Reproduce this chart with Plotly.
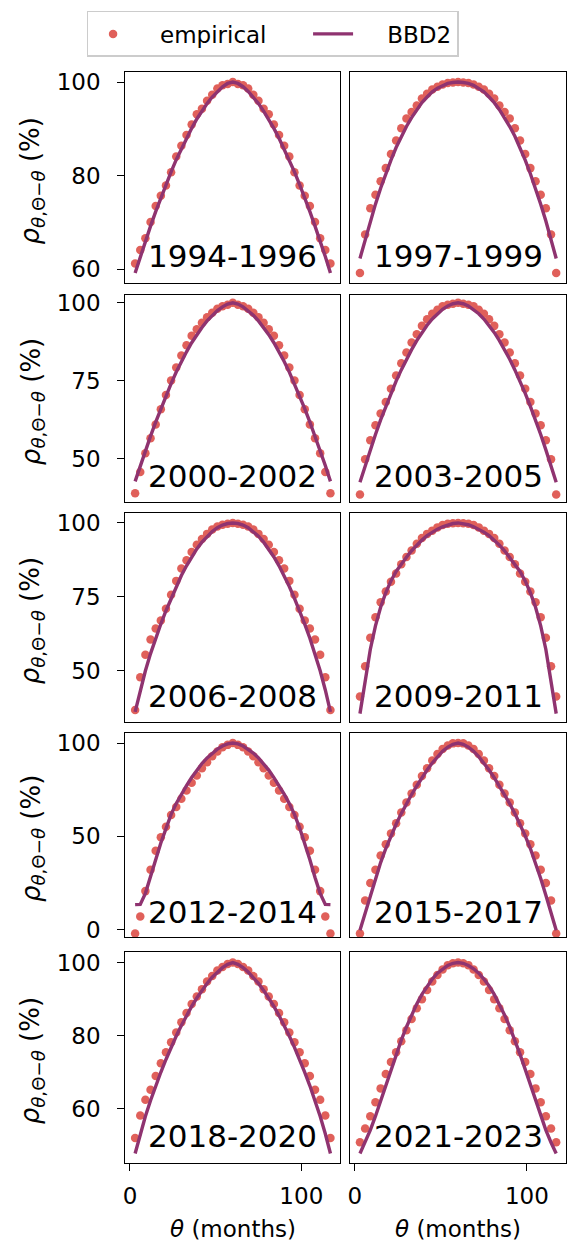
import plotly.graph_objects as go

theta = [3, 6, 9, 12, 15, 18, 21, 24, 27, 30, 33, 36, 39, 42, 45, 48, 51, 54, 57, 60,
         63, 66, 69, 72, 75, 78, 81, 84, 87, 90, 93, 96, 99, 102, 105, 108, 111, 114, 117]

periods = ["1994-1996", "1997-1999", "2000-2002", "2003-2005", "2006-2008",
           "2009-2011", "2012-2014", "2015-2017", "2018-2020", "2021-2023"]

emp_1994 = [61.2, 64.1, 66.6, 70.1, 73.5, 75.7, 77.9, 80.7, 84.1, 86.4, 88.7, 90.9, 93.1, 94.3, 96.0, 97.3, 98.6, 99.3, 99.6, 100.0,
            99.6, 99.3, 98.6, 97.3, 96.0, 94.3, 93.1, 90.9, 88.7, 86.4, 84.1, 80.7, 77.9, 75.7, 73.5, 70.1, 66.6, 64.1, 61.2]
bbd_1994 = [59.2, 62.7, 66.1, 69.2, 72.3, 75.3, 78.1, 80.8, 83.4, 85.7, 88.0, 90.1, 92.1, 93.8, 95.4, 96.8, 98.0, 99.0, 99.7, 100.0,
            99.7, 99.0, 98.0, 96.8, 95.4, 93.8, 92.1, 90.1, 88.0, 85.7, 83.4, 80.8, 78.1, 75.3, 72.3, 69.2, 66.1, 62.7, 59.2]

emp_1997 = [59.2, 67.4, 73.0, 75.9, 78.8, 81.6, 84.6, 87.5, 90.1, 92.2, 93.6, 95.0, 96.5, 97.5, 98.4, 99.0, 99.5, 99.8, 99.9, 100.0,
            99.9, 99.8, 99.5, 99.0, 98.4, 97.5, 96.5, 95.0, 93.6, 92.2, 90.1, 87.5, 84.6, 81.6, 78.8, 75.9, 73.0, 67.4, 59.2]
bbd_1997 = [62.3, 66.4, 70.3, 73.9, 77.3, 80.4, 83.3, 86.0, 88.4, 90.5, 92.4, 94.1, 95.6, 96.8, 97.9, 98.7, 99.3, 99.7, 99.9, 100.0,
            99.9, 99.7, 99.3, 98.7, 97.9, 96.8, 95.6, 94.1, 92.4, 90.5, 88.4, 86.0, 83.3, 80.4, 77.3, 73.9, 70.3, 66.4, 62.3]

emp_2000 = [39.0, 45.8, 51.8, 56.6, 61.0, 65.9, 70.5, 75.1, 79.3, 83.1, 86.4, 89.4, 91.5, 93.6, 95.4, 96.8, 98.1, 98.9, 99.4, 100.0,
            99.4, 98.9, 98.1, 96.8, 95.4, 93.6, 91.5, 89.4, 86.4, 83.1, 79.3, 75.1, 70.5, 65.9, 61.0, 56.6, 51.8, 45.8, 39.0]
bbd_2000 = [42.8, 47.9, 52.7, 57.3, 61.8, 66.1, 70.2, 74.1, 77.8, 81.2, 84.3, 87.2, 89.8, 92.1, 94.2, 96.0, 97.5, 98.7, 99.6, 100.0,
            99.6, 98.7, 97.5, 96.0, 94.2, 92.1, 89.8, 87.2, 84.3, 81.2, 77.8, 74.1, 70.2, 66.1, 61.8, 57.3, 52.7, 47.9, 42.8]

emp_2003 = [38.6, 49.9, 56.0, 60.8, 64.5, 68.2, 72.5, 76.7, 80.6, 84.1, 87.3, 89.9, 92.6, 94.7, 96.5, 97.8, 98.9, 99.4, 99.7, 100.0,
            99.7, 99.4, 98.9, 97.8, 96.5, 94.7, 92.6, 89.9, 87.3, 84.1, 80.6, 76.7, 72.5, 68.2, 64.5, 60.8, 56.0, 49.9, 38.6]
bbd_2003 = [42.5, 47.8, 52.9, 57.8, 62.5, 66.8, 71.0, 74.9, 78.5, 81.9, 85.0, 87.9, 90.5, 92.8, 94.8, 96.5, 97.9, 99.0, 99.7, 100.0,
            99.7, 99.0, 97.9, 96.5, 94.8, 92.8, 90.5, 87.9, 85.0, 81.9, 78.5, 74.9, 71.0, 66.8, 62.5, 57.8, 52.9, 47.8, 42.5]

emp_2006 = [36.7, 47.8, 55.4, 60.6, 64.3, 67.0, 71.0, 75.7, 80.4, 84.6, 87.4, 90.2, 92.6, 94.6, 96.3, 97.8, 98.8, 99.4, 99.7, 100.0,
            99.7, 99.4, 98.8, 97.8, 96.3, 94.6, 92.6, 90.2, 87.4, 84.6, 80.4, 75.7, 71.0, 67.0, 64.3, 60.6, 55.4, 47.8, 36.7]
bbd_2006 = [36.1, 43.5, 50.0, 55.8, 61.0, 65.8, 70.3, 74.5, 78.5, 82.2, 85.5, 88.5, 91.2, 93.5, 95.5, 97.1, 98.4, 99.3, 99.8, 100.0,
            99.8, 99.3, 98.4, 97.1, 95.5, 93.5, 91.2, 88.5, 85.5, 82.2, 78.5, 74.5, 70.3, 65.8, 61.0, 55.8, 50.0, 43.5, 36.1]

emp_2009 = [41.3, 51.5, 61.2, 68.1, 73.2, 76.8, 80.1, 82.9, 86.0, 88.5, 90.7, 93.0, 94.9, 96.3, 97.4, 98.5, 99.3, 99.7, 99.9, 100.0,
            99.9, 99.7, 99.3, 98.5, 97.4, 96.3, 94.9, 93.0, 90.7, 88.5, 86.0, 82.9, 80.1, 76.8, 73.2, 68.1, 61.2, 51.5, 41.3]
bbd_2009 = [35.5, 47.0, 57.2, 65.2, 71.5, 76.4, 80.4, 83.6, 86.2, 88.4, 90.6, 92.5, 94.2, 95.7, 96.9, 97.9, 98.7, 99.4, 99.8, 100.0,
            99.8, 99.4, 98.7, 97.9, 96.9, 95.7, 94.2, 92.5, 90.6, 88.4, 86.2, 83.6, 80.4, 76.4, 71.5, 65.2, 57.2, 47.0, 35.5]

emp_2012 = [-2.0, 7.1, 20.7, 32.2, 42.3, 49.5, 55.2, 61.4, 65.8, 70.2, 74.6, 78.7, 82.6, 86.5, 89.7, 92.9, 95.5, 97.7, 99.0, 100.0,
            99.0, 97.7, 95.5, 92.9, 89.7, 86.5, 82.6, 78.7, 74.6, 70.2, 65.8, 61.4, 55.2, 49.5, 42.3, 32.2, 20.7, 7.1, -2.0]
bbd_2012 = [13.5, 13.6, 19.5, 28.0, 37.5, 46.5, 54.6, 61.8, 67.6, 72.6, 77.2, 81.5, 85.5, 89.0, 92.0, 94.6, 96.7, 98.4, 99.5, 100.0,
            99.5, 98.4, 96.7, 94.6, 92.0, 89.0, 85.5, 81.5, 77.2, 72.6, 67.6, 61.8, 54.6, 46.5, 37.5, 28.0, 19.5, 13.6, 13.5]

emp_2015 = [-2.0, 15.7, 25.1, 32.2, 39.8, 45.8, 51.6, 57.0, 62.8, 68.1, 72.9, 77.7, 82.3, 86.5, 90.6, 94.1, 96.8, 98.6, 99.8, 100.0,
            99.8, 98.6, 96.8, 94.1, 90.6, 86.5, 82.3, 77.7, 72.9, 68.1, 62.8, 57.0, 51.6, 45.8, 39.8, 32.2, 25.1, 15.7, -2.0]
bbd_2015 = [-0.2, 9.0, 18.5, 27.5, 36.0, 43.5, 50.3, 56.5, 62.2, 67.5, 72.4, 77.0, 81.4, 85.5, 89.3, 92.7, 95.6, 97.8, 99.3, 100.0,
            99.3, 97.8, 95.6, 92.7, 89.3, 85.5, 81.4, 77.0, 72.4, 67.5, 62.2, 56.5, 50.3, 43.5, 36.0, 27.5, 18.5, 9.0, -0.2]

emp_2018 = [52.0, 58.2, 62.5, 65.2, 69.0, 72.5, 75.5, 78.2, 80.9, 83.7, 86.2, 88.7, 90.7, 92.7, 94.8, 96.3, 97.8, 98.8, 99.6, 100.0,
            99.6, 98.8, 97.8, 96.3, 94.8, 92.7, 90.7, 88.7, 86.2, 83.7, 80.9, 78.2, 75.5, 72.5, 69.0, 65.2, 62.5, 58.2, 52.0]
bbd_2018 = [47.8, 53.2, 58.0, 62.3, 66.3, 70.0, 73.5, 76.8, 79.9, 82.8, 85.5, 88.0, 90.3, 92.4, 94.3, 96.0, 97.4, 98.6, 99.5, 100.0,
            99.5, 98.6, 97.4, 96.0, 94.3, 92.4, 90.3, 88.0, 85.5, 82.8, 79.9, 76.8, 73.5, 70.0, 66.3, 62.3, 58.0, 53.2, 47.8]

emp_2021 = [50.9, 54.6, 58.0, 61.8, 65.6, 69.5, 72.8, 75.5, 78.5, 81.5, 84.6, 87.5, 90.0, 92.5, 94.8, 96.6, 98.1, 99.3, 99.8, 100.0,
            99.8, 99.3, 98.1, 96.6, 94.8, 92.5, 90.0, 87.5, 84.6, 81.5, 78.5, 75.5, 72.8, 69.5, 65.6, 61.8, 58.0, 54.6, 50.9]
bbd_2021 = [47.8, 50.8, 54.2, 58.0, 62.2, 66.5, 70.8, 74.9, 78.8, 82.4, 85.7, 88.7, 91.3, 93.6, 95.5, 97.1, 98.3, 99.2, 99.8, 100.0,
            99.8, 99.2, 98.3, 97.1, 95.5, 93.6, 91.3, 88.7, 85.7, 82.4, 78.8, 74.9, 70.8, 66.5, 62.2, 58.0, 54.2, 50.8, 47.8]

row_yticks = [[60, 80, 100], [50, 75, 100], [50, 75, 100], [0, 50, 100], [60, 80, 100]]
row_yranges = [[57.1, 102.05], [36.2, 102.6], [32.6, 103.4], [-4.1, 105.3], [45.3, 102.8]]
x_ticks = [0, 100]
x_range = [-2.7, 122.7]

emp_series = [emp_1994, emp_1997, emp_2000, emp_2003, emp_2006,
              emp_2009, emp_2012, emp_2015, emp_2018, emp_2021]
bbd_series = [bbd_1994, bbd_1997, bbd_2000, bbd_2003, bbd_2006,
              bbd_2009, bbd_2012, bbd_2015, bbd_2018, bbd_2021]

W, H = 568, 1245
DOT = "#e0605a"
LINE = "#8f3370"
FONT = "DejaVu Sans"
NB = "\u00a0"

col_px = [(123, 339), (349, 566)]
row_px = [(68, 280), (292, 501), (512, 723), (734, 940), (955, 1167)]

fig = go.Figure()
layout = dict(
    width=W, height=H, margin=dict(l=0, r=0, t=0, b=0),
    paper_bgcolor="white", plot_bgcolor="white",
    font=dict(family=FONT, size=23, color="black"),
    showlegend=True,
)
annotations = []

for i in range(10):
    r, c = divmod(i, 2)
    k = i + 1
    xs = "" if k == 1 else str(k)
    x0, x1 = col_px[c]
    y0, y1 = row_px[r]
    xdom = [x0 / W, x1 / W]
    ydom = [1 - y1 / H, 1 - y0 / H]
    fig.add_trace(go.Scatter(
        x=theta, y=emp_series[i], mode="markers", name=NB * 3 + "empirical" + NB * 5,
        marker=dict(size=8.5, color=DOT), showlegend=(i == 0), legendrank=1,
        xaxis="x" + xs, yaxis="y" + xs, cliponaxis=False))
    fig.add_trace(go.Scatter(
        x=theta, y=bbd_series[i], mode="lines", name=NB * 4 + "BBD2",
        line=dict(width=3.4, color=LINE), showlegend=(i == 0), legendrank=2,
        xaxis="x" + xs, yaxis="y" + xs, cliponaxis=False))
    bottom = (r == 4)
    left = (c == 0)
    layout["xaxis" + xs] = dict(
        domain=xdom, anchor="y" + xs, range=x_range, showgrid=False, zeroline=False,
        showline=True, mirror=True, linecolor="black", linewidth=1.3,
        tickvals=x_ticks if bottom else [], ticks="outside" if bottom else "",
        ticklen=7, tickwidth=1.3, tickcolor="black",
        showticklabels=bottom, tickfont=dict(size=23, family=FONT, color="black"),
        ticklabelstandoff=6, fixedrange=True)
    layout["yaxis" + xs] = dict(
        domain=ydom, anchor="x" + xs, range=row_yranges[r], showgrid=False, zeroline=False,
        showline=True, mirror=True, linecolor="black", linewidth=1.3,
        tickvals=row_yticks[r] if left else [], ticks="outside" if left else "",
        ticklen=7, tickwidth=1.3, tickcolor="black",
        showticklabels=left, tickfont=dict(size=23, family=FONT, color="black"),
        ticklabelstandoff=12, fixedrange=True)
    annotations.append(dict(
        text=periods[i], xref="x" + xs + " domain", yref="y" + xs + " domain",
        x=0.5, y=0.125, xanchor="center", yanchor="middle", showarrow=False,
        font=dict(size=31, family=FONT, color="black")))
    if left:
        annotations.append(dict(
            text="<i>ρ</i><sub><i>θ</i>,Θ−<i>θ</i></sub> (%)", xref="paper", yref="paper",
            x=29 / W, y=1 - (y0 + y1 + 6) / 2 / H, xanchor="center", yanchor="middle",
            textangle=-90, showarrow=False, font=dict(size=26, family=FONT, color="black")))
    if bottom:
        annotations.append(dict(
            text="<i>θ</i> (months)", xref="paper", yref="paper",
            x=(x0 + x1) / 2 / W, y=1 - 1234 / H, xanchor="center", yanchor="middle",
            showarrow=False, font=dict(size=23, family=FONT, color="black")))

layout["annotations"] = annotations
layout["legend"] = dict(
    orientation="h", x=84 / W, xanchor="left", y=1 - 6 / H, yanchor="top",
    bordercolor="#cccccc", borderwidth=1.5, bgcolor="white",
    font=dict(size=23, family=FONT, color="black"), itemwidth=40,
    traceorder="normal")
fig.update_layout(**layout)
fig.write_html("out.html")
